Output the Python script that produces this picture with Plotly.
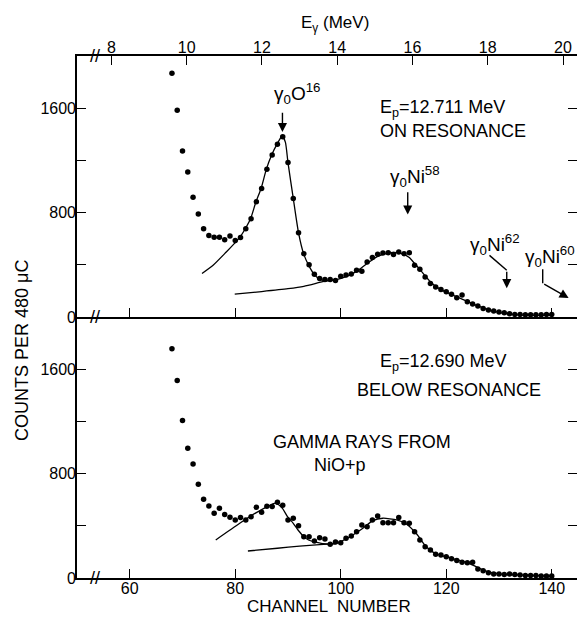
import plotly.graph_objects as go

# ---------------- data ----------------
channels = list(range(68, 141))

counts_on = [1867, 1585, 1272, 1112, 917, 790, 676, 625, 612, 612,
             592, 620, 587, 610, 676, 752, 884, 985, 1133, 1242,
             1323, 1381, 1183, 909, 645, 485, 401, 328, 295, 287,
             287, 280, 312, 322, 330, 358, 350, 421, 455, 480,
             490, 493, 478, 498, 485, 493, 396, 365, 307, 257,
             230, 211, 193, 175, 147, 168, 117, 99, 84, 66,
             53, 46, 38, 33, 25, 20, 20, 18, 18, 18,
             18, 20, 20]

counts_below = [1756, 1513, 1206, 995, 874, 719, 604, 552, 496, 535,
                486, 466, 445, 463, 445, 470, 542, 503, 550, 547,
                580, 557, 445, 458, 401, 317, 317, 284, 309, 299,
                258, 276, 271, 304, 322, 355, 406, 393, 445, 476,
                424, 424, 424, 463, 424, 419, 355, 291, 240, 215,
                182, 176, 163, 147, 134, 120, 117, 120, 69, 56,
                41, 31, 31, 27, 31, 27, 23, 19, 19, 19,
                15, 15, 15]

fit_on_ch = [73.7, 75.8, 78.3, 79.9, 80.9, 81.9, 82.9, 83.9, 84.9, 85.9,
             86.9, 87.9, 88.9, 89.5, 90.0, 91.0, 92.0, 93.0, 94.0, 95.0,
             96.0, 97.0, 99.0, 101, 103, 105, 107, 109, 110, 111,
             112, 113, 114, 115, 116, 117, 118, 119, 120, 122,
             124, 126, 128, 130, 132, 134, 136, 138, 140]
fit_on_cnt = [333, 396, 498, 566, 612, 676, 752, 879, 985, 1133,
              1242, 1323, 1387, 1340, 1183, 909, 645, 480, 390, 325,
              290, 278, 285, 310, 350, 410, 465, 490, 495, 492,
              480, 455, 410, 365, 315, 270, 235, 210, 190, 155,
              120, 85, 55, 35, 22, 15, 12, 12, 12]

bg_on_ch = [79.9, 85, 90, 93, 96, 98]
bg_on_cnt = [175, 195, 217, 235, 265, 285]

fit_below_ch = [76.3, 80.85, 84.0, 86.0, 87.6, 88.9, 89.9, 91.0, 91.9, 93.0,
                93.9, 94.9, 96.6, 99.1, 102, 104.2, 106.1, 108, 110.6, 112.5,
                114.4, 116.2, 118.1, 120.7, 122, 124, 126, 128, 130, 133,
                136, 140]
fit_below_cnt = [291, 419, 501, 545, 573, 535, 470, 419, 368, 317,
                 291, 278, 263, 265, 322, 381, 440, 458, 445, 412,
                 337, 240, 184, 156, 140, 118, 80, 47, 32, 25,
                 19, 15]

bg_below_ch = [82.4, 88, 92.2, 96, 99]
bg_below_cnt = [207, 228, 245, 256, 263]

channel_ticks = [60, 80, 100, 120, 140]
energy_ticks = [8, 10, 12, 14, 16, 18, 20]
count_major_ticks = [0, 800, 1600]
count_minor_ticks = [400, 1200]
count_right_ticks = [400, 800, 1200, 1600]

# channel -> gamma energy calibration
E_AT_CH60 = 8.486
MEV_PER_CH = 0.14018
CH_RANGE = [50, 144.79]
E_RANGE = [E_AT_CH60 + (c - 60) * MEV_PER_CH for c in CH_RANGE]
COUNT_RANGE = [0, 2000]

FONT = "Liberation Sans"
BLACK = "black"

fig = go.Figure()

mk = dict(color=BLACK, size=5.5)
ln = dict(color=BLACK, width=1.3, shape="spline", smoothing=0.6)

# bottom panel
fig.add_trace(go.Scatter(x=channels, y=counts_below, mode="markers", marker=mk,
                         xaxis="x", yaxis="y", showlegend=False))
fig.add_trace(go.Scatter(x=fit_below_ch, y=fit_below_cnt, mode="lines", line=ln,
                         xaxis="x", yaxis="y", showlegend=False))
fig.add_trace(go.Scatter(x=bg_below_ch, y=bg_below_cnt, mode="lines", line=ln,
                         xaxis="x", yaxis="y", showlegend=False))
# top panel
fig.add_trace(go.Scatter(x=channels, y=counts_on, mode="markers", marker=mk,
                         xaxis="x2", yaxis="y2", showlegend=False))
fig.add_trace(go.Scatter(x=fit_on_ch, y=fit_on_cnt, mode="lines", line=ln,
                         xaxis="x2", yaxis="y2", showlegend=False))
fig.add_trace(go.Scatter(x=bg_on_ch, y=bg_on_cnt, mode="lines", line=ln,
                         xaxis="x2", yaxis="y2", showlegend=False))
# carriers for auxiliary axes
fig.add_trace(go.Scatter(x=[None], y=[None], xaxis="x3", yaxis="y2", showlegend=False))
fig.add_trace(go.Scatter(x=[None], y=[None], xaxis="x2", yaxis="y3", showlegend=False))
fig.add_trace(go.Scatter(x=[None], y=[None], xaxis="x", yaxis="y4", showlegend=False))

tickfont = dict(family=FONT, size=16, color=BLACK)
common = dict(ticks="inside", ticklen=9, tickwidth=1.4, tickcolor=BLACK,
              showgrid=False, zeroline=False, linecolor=BLACK, linewidth=1.6,
              tickfont=tickfont, automargin=False)
minor_y = dict(tickmode="array", tickvals=count_minor_ticks, ticks="inside",
               ticklen=9, tickwidth=1.4, tickcolor=BLACK, showgrid=False)

fig.update_layout(
    width=577, height=617,
    margin=dict(l=77, r=0, t=56, b=39),
    paper_bgcolor="white", plot_bgcolor="white",
    font=dict(family=FONT, size=16, color=BLACK),
    xaxis=dict(domain=[0, 1], anchor="y", range=CH_RANGE, tickvals=channel_ticks,
               showline=True, ticklabelstandoff=-5, **common),
    yaxis=dict(domain=[0, 0.5], anchor="x", range=COUNT_RANGE, tickvals=count_major_ticks,
               minor=minor_y, showline=True, ticklabelstandoff=-4, **common),
    xaxis2=dict(domain=[0, 1], anchor="y2", range=CH_RANGE, tickvals=channel_ticks,
                showticklabels=False, showline=True, **common),
    yaxis2=dict(domain=[0.5, 1], anchor="x2", range=COUNT_RANGE, tickvals=count_major_ticks,
                minor=minor_y, showline=True, ticklabelstandoff=-4, **common),
    xaxis3=dict(overlaying="x2", anchor="y2", side="top", range=E_RANGE,
                tickvals=energy_ticks, showline=True, ticklabelstandoff=-5, **common),
    yaxis3=dict(overlaying="y2", anchor="x2", side="right", range=COUNT_RANGE,
                tickvals=count_right_ticks, showticklabels=False, showline=False, **common),
    yaxis4=dict(overlaying="y", anchor="x", side="right", range=COUNT_RANGE,
                tickvals=count_right_ticks, showticklabels=False, showline=False, **common),
)

ann = []


def txt(x, y, text, xref, yref, size=18):
    ann.append(dict(x=x, y=y, xref=xref, yref=yref, text=text, showarrow=False,
                    xanchor="left", yanchor="middle",
                    font=dict(family=FONT, size=size, color=BLACK)))


def arrow(x, y, ax, ay, xref, yref):
    ann.append(dict(x=x, y=y, ax=ax, ay=ay, xref=xref, yref=yref, axref=xref, ayref=yref,
                    text="", showarrow=True, arrowhead=2, arrowsize=1.3, arrowwidth=1.4,
                    arrowcolor=BLACK))


# top panel labels
txt(86.9, 1714, "γ<sub>0</sub>O<sup>16</sup>", "x2", "y2", 19)
arrow(88.95, 1417, 88.95, 1577, "x2", "y2")
txt(107.0, 1600, "E<sub>p</sub>=12.711 MeV", "x2", "y2")
txt(107.0, 1429, "ON RESONANCE", "x2", "y2")
txt(108.9, 1074, "γ<sub>0</sub>Ni<sup>58</sup>", "x2", "y2", 19)
arrow(112.7, 785, 112.7, 968, "x2", "y2")
txt(124.1, 556, "γ<sub>0</sub>Ni<sup>62</sup>", "x2", "y2", 19)
arrow(131.47, 221, 131.47, 358, "x2", "y2")
txt(134.5, 465, "γ<sub>0</sub>Ni<sup>60</sup>", "x2", "y2", 19)
arrow(143.2, 145, 138.29, 259, "x2", "y2")

# bottom panel labels
txt(107.0, 1649, "E<sub>p</sub>=12.690 MeV", "x", "y")
txt(102.65, 1442, "BELOW RESONANCE", "x", "y")
txt(86.7, 1039, "GAMMA RAYS FROM", "x", "y")
txt(94.5, 863, "NiO+p", "x", "y")

# axis titles
ann.append(dict(x=-0.11, y=0.435, xref="paper", yref="paper", text="COUNTS PER 480 μC",
                textangle=-90, showarrow=False, xanchor="center", yanchor="middle",
                font=dict(family=FONT, size=18, color=BLACK)))
ann.append(dict(x=0.504, y=-0.054, xref="paper", yref="paper", text="CHANNEL  NUMBER",
                showarrow=False, xanchor="center", yanchor="middle",
                font=dict(family=FONT, size=17, color=BLACK)))
ann.append(dict(x=0.516, y=1.0613, xref="paper", yref="paper", text="E<sub>γ</sub> (MeV)",
                showarrow=False, xanchor="center", yanchor="middle",
                font=dict(family=FONT, size=17, color=BLACK)))

# axis break marks
for yp in [0, 0.5, 1.0]:
    ann.append(dict(x=0.036, y=yp, xref="paper", yref="paper", text="//", showarrow=False,
                    xanchor="center", yanchor="middle",
                    font=dict(family=FONT, size=18, color=BLACK)))

fig.update_layout(annotations=ann)

# bent arrow shafts
fig.update_layout(shapes=[
    dict(type="path", xref="x2", yref="y2", path="M 128.2 472 L 131.47 358",
         line=dict(color=BLACK, width=1.4)),
    dict(type="path", xref="x2", yref="y2", path="M 138.29 366 L 138.29 259",
         line=dict(color=BLACK, width=1.4)),
])

fig.write_html("out.html", config={"displayModeBar": False},
               post_script="document.body.style.margin='0px';")
